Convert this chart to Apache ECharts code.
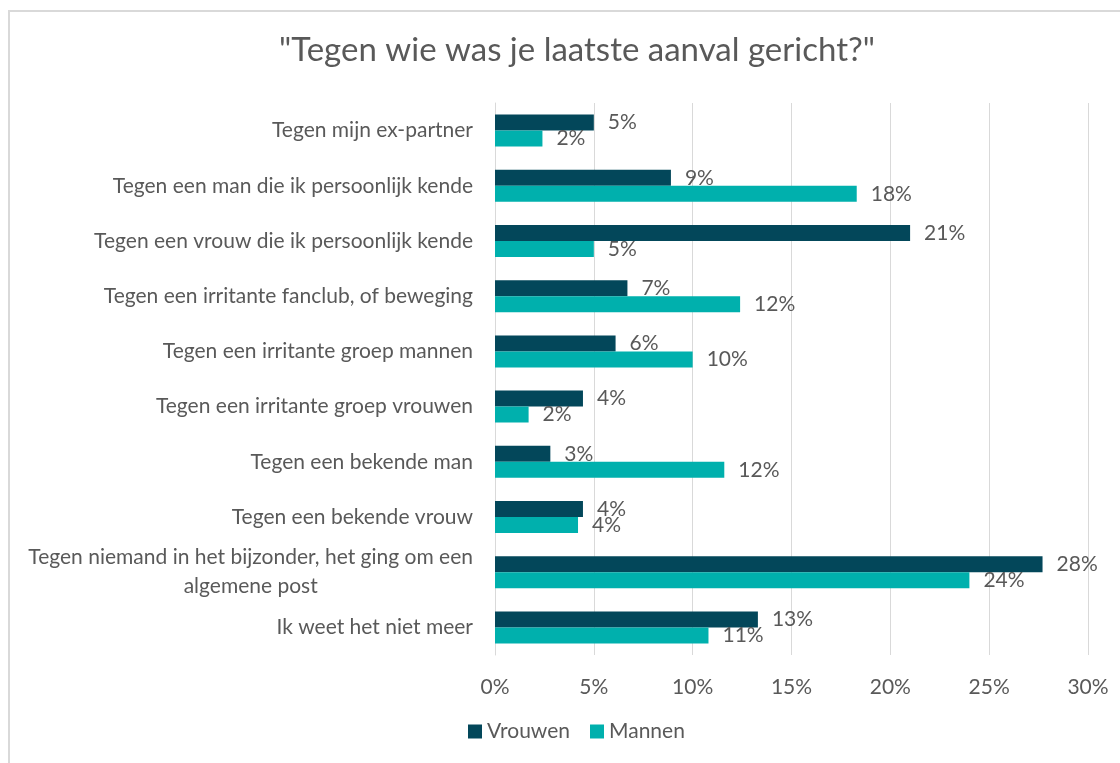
<!DOCTYPE html>
<html>
<head>
<meta charset="utf-8">
<style>
  html, body { margin: 0; padding: 0; background: #fff; }
  #frame { position: absolute; left: 8px; top: 10px; width: 1130px; height: 780px; border: 2px solid #d9d9d9; box-sizing: border-box; }
  #chart { position: absolute; left: 0; top: 0; width: 1120px; height: 763px; }
</style>
<script src="https://cdn.jsdelivr.net/npm/echarts@6/dist/echarts.min.js"></script>
</head>
<body>
<div id="frame"></div>
<div id="chart"></div>
<script>
// categories, top to bottom
let categories = [
  'Tegen mijn ex-partner',
  'Tegen een man die ik persoonlijk kende',
  'Tegen een vrouw die ik persoonlijk kende',
  'Tegen een irritante fanclub, of beweging',
  'Tegen een irritante groep mannen',
  'Tegen een irritante groep vrouwen',
  'Tegen een bekende man',
  'Tegen een bekende vrouw',
  'Tegen niemand in het bijzonder, het ging om een\nalgemene post',
  'Ik weet het niet meer'
]
// percentages
let vrouwen = [5.0, 8.9, 21.0, 6.7, 6.1, 4.45, 2.8, 4.45, 27.7, 13.3]
let mannen = [2.4, 18.3, 5.0, 12.4, 10.0, 1.7, 11.6, 4.2, 24.0, 10.8]
let xTicks = [0, 5, 10, 15, 20, 25, 30]

let font = 'Lato, "Open Sans", sans-serif'
let grey = '#595959'

let chart = echarts.init(document.getElementById('chart'))

let labelStyle = {
  show: true,
  position: 'right',
  distance: 14,
  color: grey,
  fontSize: 21,
  fontFamily: font,
  formatter: p => Math.round(p.value) + '%'
}

let option = {
  backgroundColor: 'transparent',
  animation: false,
  title: {
    text: '"Tegen wie was je laatste aanval gericht?"',
    left: 274,
    top: 29,
    textStyle: { color: grey, fontSize: 33, fontWeight: 'normal', fontFamily: font }
  },
  color: ['#03475A', '#00B0AD'],
  legend: {
    bottom: 16,
    left: 463,
    itemWidth: 14,
    itemHeight: 14,
    itemGap: 20,
    icon: 'rect',
    textStyle: { color: grey, fontSize: 21, fontFamily: font },
    data: ['Vrouwen', 'Mannen']
  },
  grid: { left: 495, right: 32, top: 103, bottom: 108 },
  xAxis: {
    type: 'value',
    min: xTicks[0],
    max: xTicks[xTicks.length - 1],
    interval: 5,
    axisLine: { show: false },
    axisTick: { show: false },
    splitLine: { lineStyle: { color: '#d9d9d9', width: 1 } },
    axisLabel: {
      color: grey, fontSize: 21, fontFamily: font, margin: 22,
      formatter: v => v + '%'
    }
  },
  yAxis: {
    type: 'category',
    inverse: true,
    data: categories,
    axisLine: { show: true, lineStyle: { color: '#d9d9d9' } },
    axisTick: { show: false },
    axisLabel: {
      color: grey, fontSize: 21, fontFamily: font, margin: 22, lineHeight: 29,
      formatter: v => {
        let parts = v.split('\n')
        if (parts.length < 2) return v
        return '{a|' + parts[0] + '}\n{c|' + parts[1] + '}'
      },
      rich: {
        a: { color: grey, fontSize: 21, fontFamily: font, lineHeight: 29 },
        c: { color: grey, fontSize: 21, fontFamily: font, lineHeight: 29, width: 444, align: 'center' }
      }
    }
  },
  series: [
    {
      name: 'Vrouwen',
      type: 'bar',
      barWidth: 16,
      barGap: '0%',
      label: labelStyle,
      data: vrouwen
    },
    {
      name: 'Mannen',
      type: 'bar',
      barWidth: 16,
      barGap: '0%',
      label: labelStyle,
      data: mannen
    }
  ]
}
chart.setOption(option)
</script>
</body>
</html>
